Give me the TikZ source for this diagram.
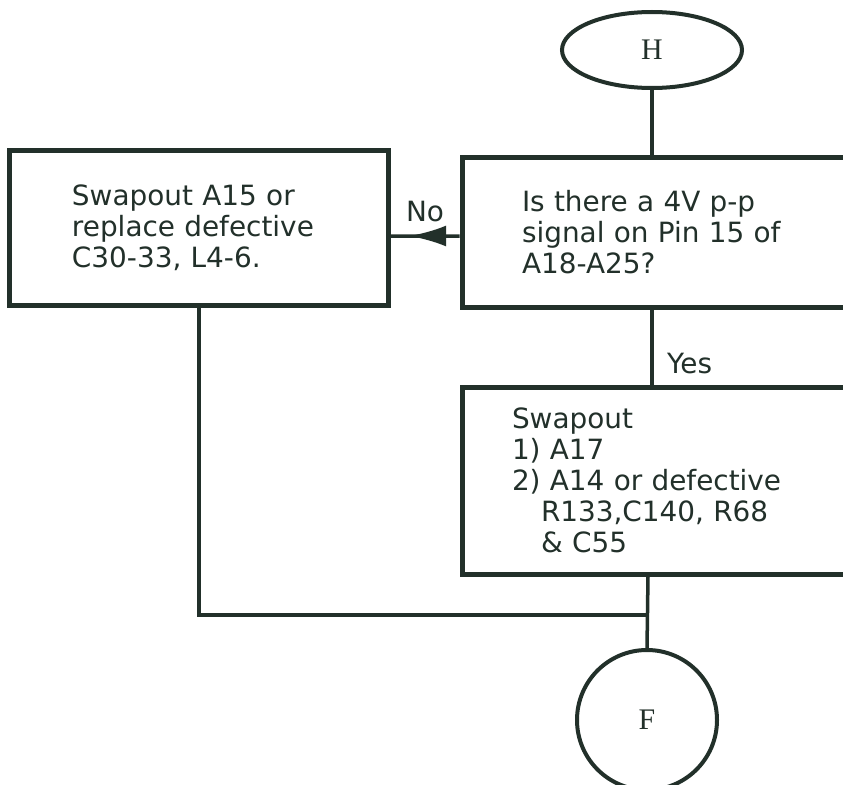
\documentclass[tikz,border=0pt]{standalone}
\usepackage{fontspec}
\setmainfont{DejaVu Sans}
\newfontfamily\letterfont{Liberation Serif}
\usepackage{xcolor}
\usetikzlibrary{arrows.meta,calc,positioning,shapes.geometric,decorations.markings}
\definecolor{Ink}{HTML}{22302A}

\begin{document}
\begin{tikzpicture}[
  x=1bp,y=-1bp,
  font=\fontsize{28}{31}\selectfont,text=Ink,
  stepbox/.style={draw=Ink,line width=5bp,rectangle,align=left,
    inner ysep=0bp,anchor=center},
  terminal/.style={draw=Ink,line width=4bp,inner sep=0bp,
    font=\letterfont\fontsize{30}{31}\selectfont},
  link/.style={draw=Ink,line width=3.5bp},
  midarrow/.style={link,postaction={decorate},decoration={markings,
    mark=at position 0.73 with {\arrow{Latex[length=37bp,width=21bp]}}}}
]
\fill[white] (0,0) rectangle (843,785);
\useasboundingbox (0,0) rectangle (843,785);

% Entry point and the test.
\node[terminal,ellipse,minimum width=180bp,minimum height=76bp] (H)
  at (652,50) {H};
\node[stepbox,minimum width=400bp,minimum height=150bp,
  text width=280bp,inner xsep=60bp] (qbox) at (662,232)
  {Is there a 4V p-p\\signal on Pin 15 of\\A18-A25?};
\draw[link] (H.south) -- (H.south |- qbox.north);

% No branch.
\node[stepbox,minimum width=378bp,minimum height=155bp,
  text width=254bp,inner xsep=62bp] (leftbox) at (199,227.5)
  {Swapout A15 or\\replace defective\\C30-33, L4-6.};
\draw[midarrow] ([yshift=-4bp]qbox.west) -- ([yshift=-8.5bp]leftbox.east)
  node[midway,above=9bp] {No};

% Yes branch.
\node[stepbox,minimum width=400bp,minimum height=187bp,
  text width=300bp,inner xsep=50bp] (swapbox) at (662,480.5)
  {Swapout\\1) A17\\2) A14 or defective\\\hspace*{29bp}R133,C140, R68\\
   \hspace*{29bp}\& C55};
\draw[link] (qbox.south -| H.south) -- (swapbox.north -| H.south)
  node[pos=0.72,right=10bp] {Yes};

% Exit point.
\node[terminal,circle,minimum size=140bp] (F) at (647,720) {F};
\coordinate (join) at (648,615);
\draw[link] (swapbox.south -| join) -- (F.north);
\draw[link] (leftbox.south) |- (join);
\end{tikzpicture}
\end{document}
